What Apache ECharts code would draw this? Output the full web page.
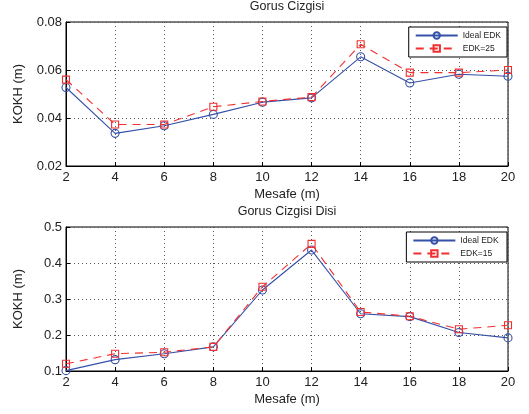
<!DOCTYPE html>
<html>
<head>
<meta charset="utf-8">
<script src="https://cdn.jsdelivr.net/npm/echarts@6/dist/echarts.min.js"></script>
<style>
html,body{margin:0;padding:0;background:#fff;}
#c{width:529px;height:414px;}
</style>
</head>
<body>
<div id="c"></div>
<script>
const distances = [2, 4, 6, 8, 10, 12, 14, 16, 18, 20];
const topIdeal = [0.0527, 0.0336, 0.0368, 0.0415, 0.0466, 0.0484, 0.0655, 0.0546, 0.0582, 0.0574];
const topEdk25 = [0.0560, 0.0373, 0.0373, 0.0447, 0.0469, 0.0487, 0.0707, 0.0589, 0.0589, 0.0600];
const botIdeal = [0.101, 0.1315, 0.148, 0.167, 0.325, 0.436, 0.259, 0.251, 0.207, 0.192];
const botEdk15 = [0.120, 0.148, 0.152, 0.167, 0.334, 0.453, 0.264, 0.252, 0.216, 0.227];
const topTitle = 'Gorus Cizgisi';
const botTitle = 'Gorus Cizgisi Disi';
const xName = 'Mesafe (m)';
const yName = 'KOKH (m)';

const BLUE = '#3550a8';
const RED = '#f03030';
const FONT = 'Liberation Sans, Arial, sans-serif';

function pairs(xs, ys){ return xs.map((x,i)=>[x, ys[i]]); }

function xAxis(gi){
  return {
    type:'value', gridIndex:gi, min:2, max:20, interval:2,
    name:xName, nameLocation:'middle', nameGap:22,
    nameTextStyle:{color:'#222', fontSize:13, fontFamily:FONT},
    axisLine:{show:true, onZero:false, lineStyle:{color:'#000', width:1}},
    axisTick:{show:true, inside:true, length:4, lineStyle:{color:'#000'}},
    axisLabel:{color:'#222', fontSize:13, fontFamily:FONT, margin:5},
    splitLine:{show:true, lineStyle:{color:'#555', type:[1,3], width:1}}
  };
}
function yAxis(gi, min, max, itv, dec){
  return {
    type:'value', gridIndex:gi, min:min, max:max, interval:itv,
    name:yName, nameLocation:'middle', nameGap:41,
    nameTextStyle:{color:'#222', fontSize:13, fontFamily:FONT},
    axisLine:{show:true, onZero:false, lineStyle:{color:'#000', width:1}},
    axisTick:{show:true, inside:true, length:4, lineStyle:{color:'#000'}},
    axisLabel:{color:'#222', fontSize:13, fontFamily:FONT, margin:4,
      formatter:v=>v.toFixed(dec)},
    splitLine:{show:true, lineStyle:{color:'#555', type:[1,3], width:1}}
  };
}
function lineSeries(name, data, gi, color, dashed, symbol, size){
  return {
    type:'line', name:name, xAxisIndex:gi, yAxisIndex:gi,
    data:data, symbol:symbol, symbolSize:size, showSymbol:true,
    lineStyle:{color:color, width:1.1, type: dashed ? [8,6] : 'solid'},
    itemStyle:{color:'rgba(255,255,255,0)', borderColor:color, borderWidth:1.1},
    emphasis:{disabled:true}, animation:false, z: dashed ? 3 : 2
  };
}
function legend(top, names){
  return {
    top:top, right:22, orient:'vertical',
    data:names,
    backgroundColor:'#fff', borderColor:'#000', borderWidth:1,
    padding:[4,6,4,6], itemGap:4, itemWidth:42, itemHeight:8,
    textStyle:{fontSize:8.5, color:'#222', fontFamily:FONT},
    selectedMode:false
  };
}

const chart = echarts.init(document.getElementById('c'), null, {renderer:'canvas'});
chart.setOption({
  backgroundColor:'#fff',
  animation:false,
  title:[
    {text:topTitle, left:287, textAlign:'center', top:0, padding:0, textStyle:{fontSize:12.5, fontWeight:'normal', color:'#222', fontFamily:FONT}},
    {text:botTitle, left:287, textAlign:'center', top:205, padding:0, textStyle:{fontSize:12.5, fontWeight:'normal', color:'#222', fontFamily:FONT}}
  ],
  legend:[
    legend(27, ['Ideal EDK','EDK=25']),
    legend(232, ['Ideal EDK ','EDK=15'])
  ],
  grid:[
    {left:66, width:442, top:22, height:144, show:true, borderColor:'#000', borderWidth:1, backgroundColor:'transparent'},
    {left:66, width:442, top:227, height:144, show:true, borderColor:'#000', borderWidth:1, backgroundColor:'transparent'}
  ],
  xAxis:[xAxis(0), xAxis(1)],
  yAxis:[yAxis(0,0.02,0.08,0.02,2), yAxis(1,0.1,0.5,0.1,1)],
  series:[
    lineSeries('Ideal EDK', pairs(distances, topIdeal), 0, BLUE, false, 'circle', 8),
    lineSeries('EDK=25', pairs(distances, topEdk25), 0, RED, true, 'rect', 7),
    lineSeries('Ideal EDK ', pairs(distances, botIdeal), 1, BLUE, false, 'circle', 8),
    lineSeries('EDK=15', pairs(distances, botEdk15), 1, RED, true, 'rect', 7)
  ]
});
</script>
</body>
</html>
